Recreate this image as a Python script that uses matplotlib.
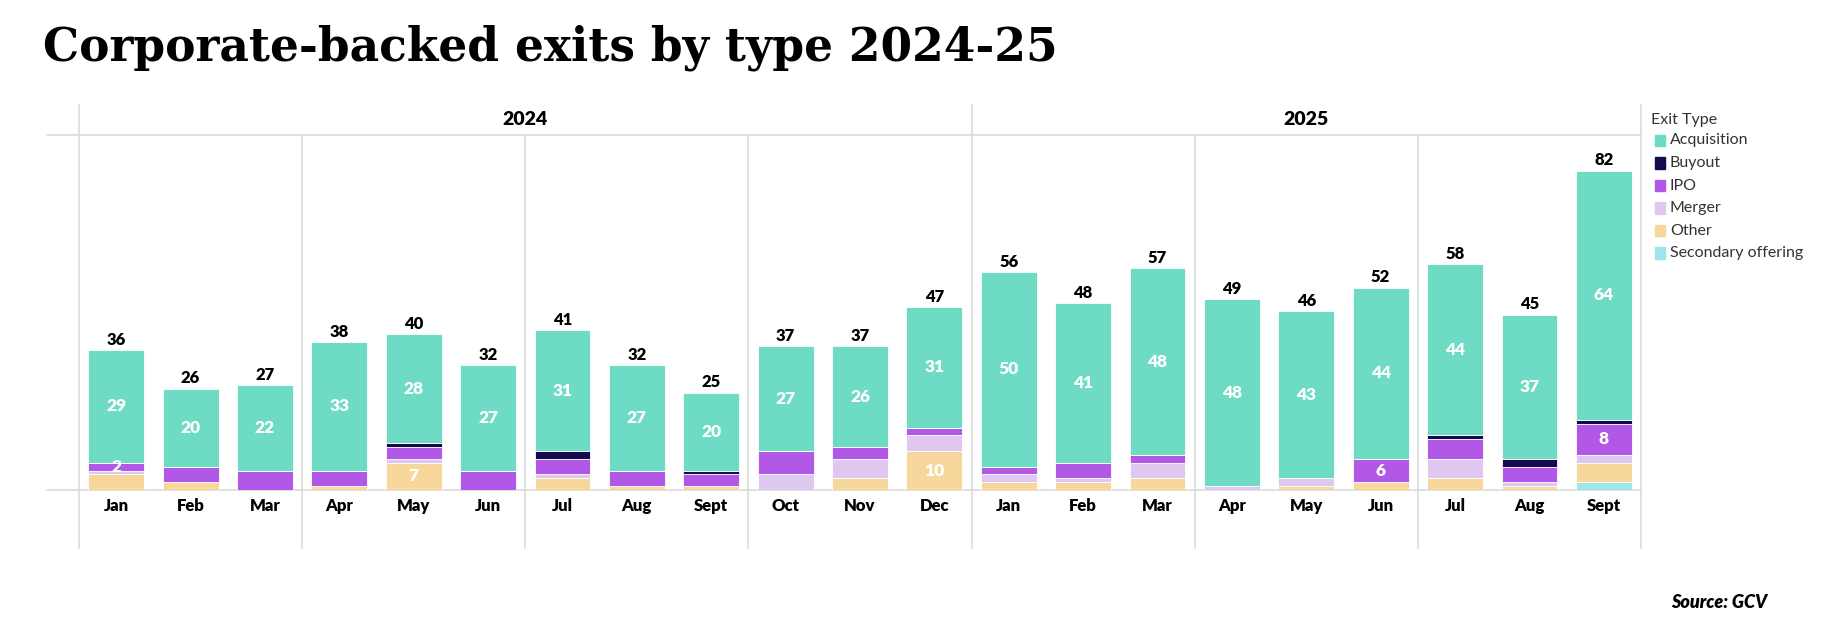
import numpy as np
import matplotlib
matplotlib.use('Agg')
import matplotlib.pyplot as plt
from matplotlib.patches import Rectangle

plt.rcParams['font.family'] = ['Lato', 'DejaVu Sans']

# data
months = ['Jan', 'Feb', 'Mar', 'Apr', 'May', 'Jun', 'Jul', 'Aug', 'Sept', 'Oct', 'Nov', 'Dec',
          'Jan', 'Feb', 'Mar', 'Apr', 'May', 'Jun', 'Jul', 'Aug', 'Sept']
years = ['2024', '2025']
year_months = [12, 9]

acquisition = [29, 20, 22, 33, 28, 27, 31, 27, 20, 27, 26, 31, 50, 41, 48, 48, 43, 44, 44, 37, 64]
buyout      = [0, 0, 0, 0, 1, 0, 2, 0, 1, 0, 0, 0, 0, 0, 0, 0, 0, 0, 1, 2, 1]
ipo         = [2, 4, 5, 4, 3, 5, 4, 4, 3, 6, 3, 2, 2, 4, 2, 0, 0, 6, 5, 4, 8]
merger      = [1, 0, 0, 0, 1, 0, 1, 0, 0, 4, 5, 4, 2, 1, 4, 1, 2, 0, 5, 1, 2]
other       = [4, 2, 0, 1, 7, 0, 3, 1, 1, 0, 3, 10, 2, 2, 3, 0, 1, 2, 3, 1, 5]
secondary   = [0, 0, 0, 0, 0, 0, 0, 0, 0, 0, 0, 0, 0, 0, 0, 0, 0, 0, 0, 0, 2]

# segments (series, month index) that carry a value label besides acquisitions
extra_labels = [('IPO', 0), ('Other', 4), ('Other', 11), ('IPO', 17), ('IPO', 20)]

series = [('Secondary offering', secondary, '#9FE5EC'),
          ('Other', other, '#F7D79B'),
          ('Merger', merger, '#DFC8F0'),
          ('IPO', ipo, '#B258E6'),
          ('Buyout', buyout, '#150A50'),
          ('Acquisition', acquisition, '#6EDBC4')]

fig = plt.figure(figsize=(18.3, 6.41), dpi=100)
ax = fig.add_axes([0.0432, 0.2356, 0.8535, 0.5538])

x = np.arange(len(months))
bottom = np.zeros(len(months))
for name, vals, col in series:
    vals = np.array(vals)
    ax.bar(x, vals, bottom=bottom, width=0.75, color=col, edgecolor='white', linewidth=0.6)
    for i, v in enumerate(vals):
        if v == 0:
            continue
        if name == 'Acquisition' or (name, i) in extra_labels:
            ax.text(i, bottom[i] + v / 2, str(v), ha='center', va='center',
                    color='white', fontsize=12.5, fontweight='heavy')
    bottom += vals

totals = bottom
for i, t in enumerate(totals):
    ax.text(i, t + 0.6, str(int(t)), ha='center', va='bottom', fontsize=12, fontweight='heavy', color='black')

ax.set_xlim(-0.5, len(months) - 0.5)
ax.set_ylim(0, 91.2)
ax.axis('off')

grid = '#DCDCDC'
# horizontal lines
ax.plot([-0.93, len(months) - 0.5], [0, 0], color=grid, lw=1.2, clip_on=False, zorder=0)
ax.plot([-0.93, len(months) - 0.5], [91.2, 91.2], color=grid, lw=1.2, clip_on=False, zorder=0)

# quarter and year separators
year_edges = np.cumsum([0] + year_months) - 0.5
for q in np.arange(-0.5, len(months), 3):
    top = 99 if q in year_edges else 91.2
    ax.plot([q, q], [-15, top], color=grid, lw=1.2, clip_on=False, zorder=0)

# year headers
for k, yr in enumerate(years):
    ax.text((year_edges[k] + year_edges[k + 1]) / 2, 95.3, yr, ha='center', va='center',
            fontsize=14, fontweight='heavy')

# month labels
for i, m in enumerate(months):
    ax.text(i, -4, m, ha='center', va='center', fontsize=12, fontweight='heavy')

# legend
fig.text(0.902, 0.813, 'Exit Type', fontsize=11.5, color='#333333', va='center')
for k, (name, vals, col) in enumerate(reversed(series)):
    yy = 0.781 - k * 0.0352
    fig.patches.append(Rectangle((0.9045, yy - 0.009), 0.0052, 0.018, transform=fig.transFigure,
                                 color=col, figure=fig))
    fig.text(0.9125, yy, name, fontsize=11.5, color='#333333', va='center')

fig.text(0.0235, 0.925, 'Corporate-backed exits by type 2024-25', fontsize=32.8,
         fontweight='bold', family='DejaVu Serif', va='center')
fig.text(0.966, 0.06, 'Source: GCV', fontsize=13, fontweight='heavy', style='italic',
         ha='right', va='center')

fig.savefig('out.png', dpi=100)
